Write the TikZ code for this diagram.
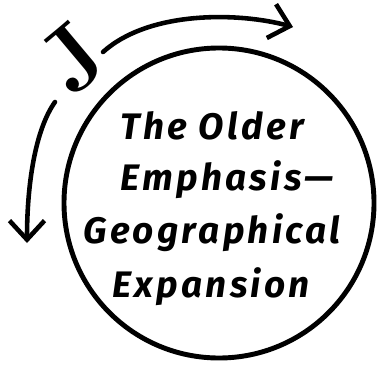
\documentclass[tikz,border=0pt]{standalone}
\usepackage{fontspec}
\usepackage{tikz}
\usetikzlibrary{arrows.meta}
\newfontfamily\handfont[LetterSpace=9]{Fira Sans}
\tikzset{
  pen/.style={line width=2.6pt,line cap=round},
  turn/.style={pen,-{Straight Barb[length=3.8mm,width=7mm,line width=2.6pt]}},
  hand/.style={font=\handfont\bfseries\itshape\fontsize{21}{21}\selectfont,inner sep=0pt}
}

\begin{document}
\begin{tikzpicture}
  \useasboundingbox (0,0) rectangle (7.6,7.3);
  % the circle
  \draw[line width=2.8pt] (4.38,3.24) circle (3.1);
  \node[hand] (older) at (4.24,4.78) {The Older};
  \node[hand] (emph) at (4.54,3.70) {Emphasis—};
  \node[hand] (geo) at (4.24,2.64) {Geographical};
  \node[hand] (exp) at (4.22,1.56) {Expansion};
  % the letter and its two arrows
  \node[rotate=40,font=\bfseries\fontsize{52}{52}\selectfont,inner sep=0pt] (jay) at (1.46,6.15) {J};
  \coordinate (upstart) at (2.06,6.26);
  \coordinate (upend) at (5.86,6.76);
  \coordinate (downstart) at (1.1,5.26);
  \coordinate (downend) at (0.54,2.44);
  \draw[turn] (upstart) .. controls (3.0,7.1) and (4.8,7.05) .. (upend);
  \draw[turn] (downstart) .. controls (0.7,4.7) and (0.54,3.6) .. (downend);
\end{tikzpicture}
\end{document}
